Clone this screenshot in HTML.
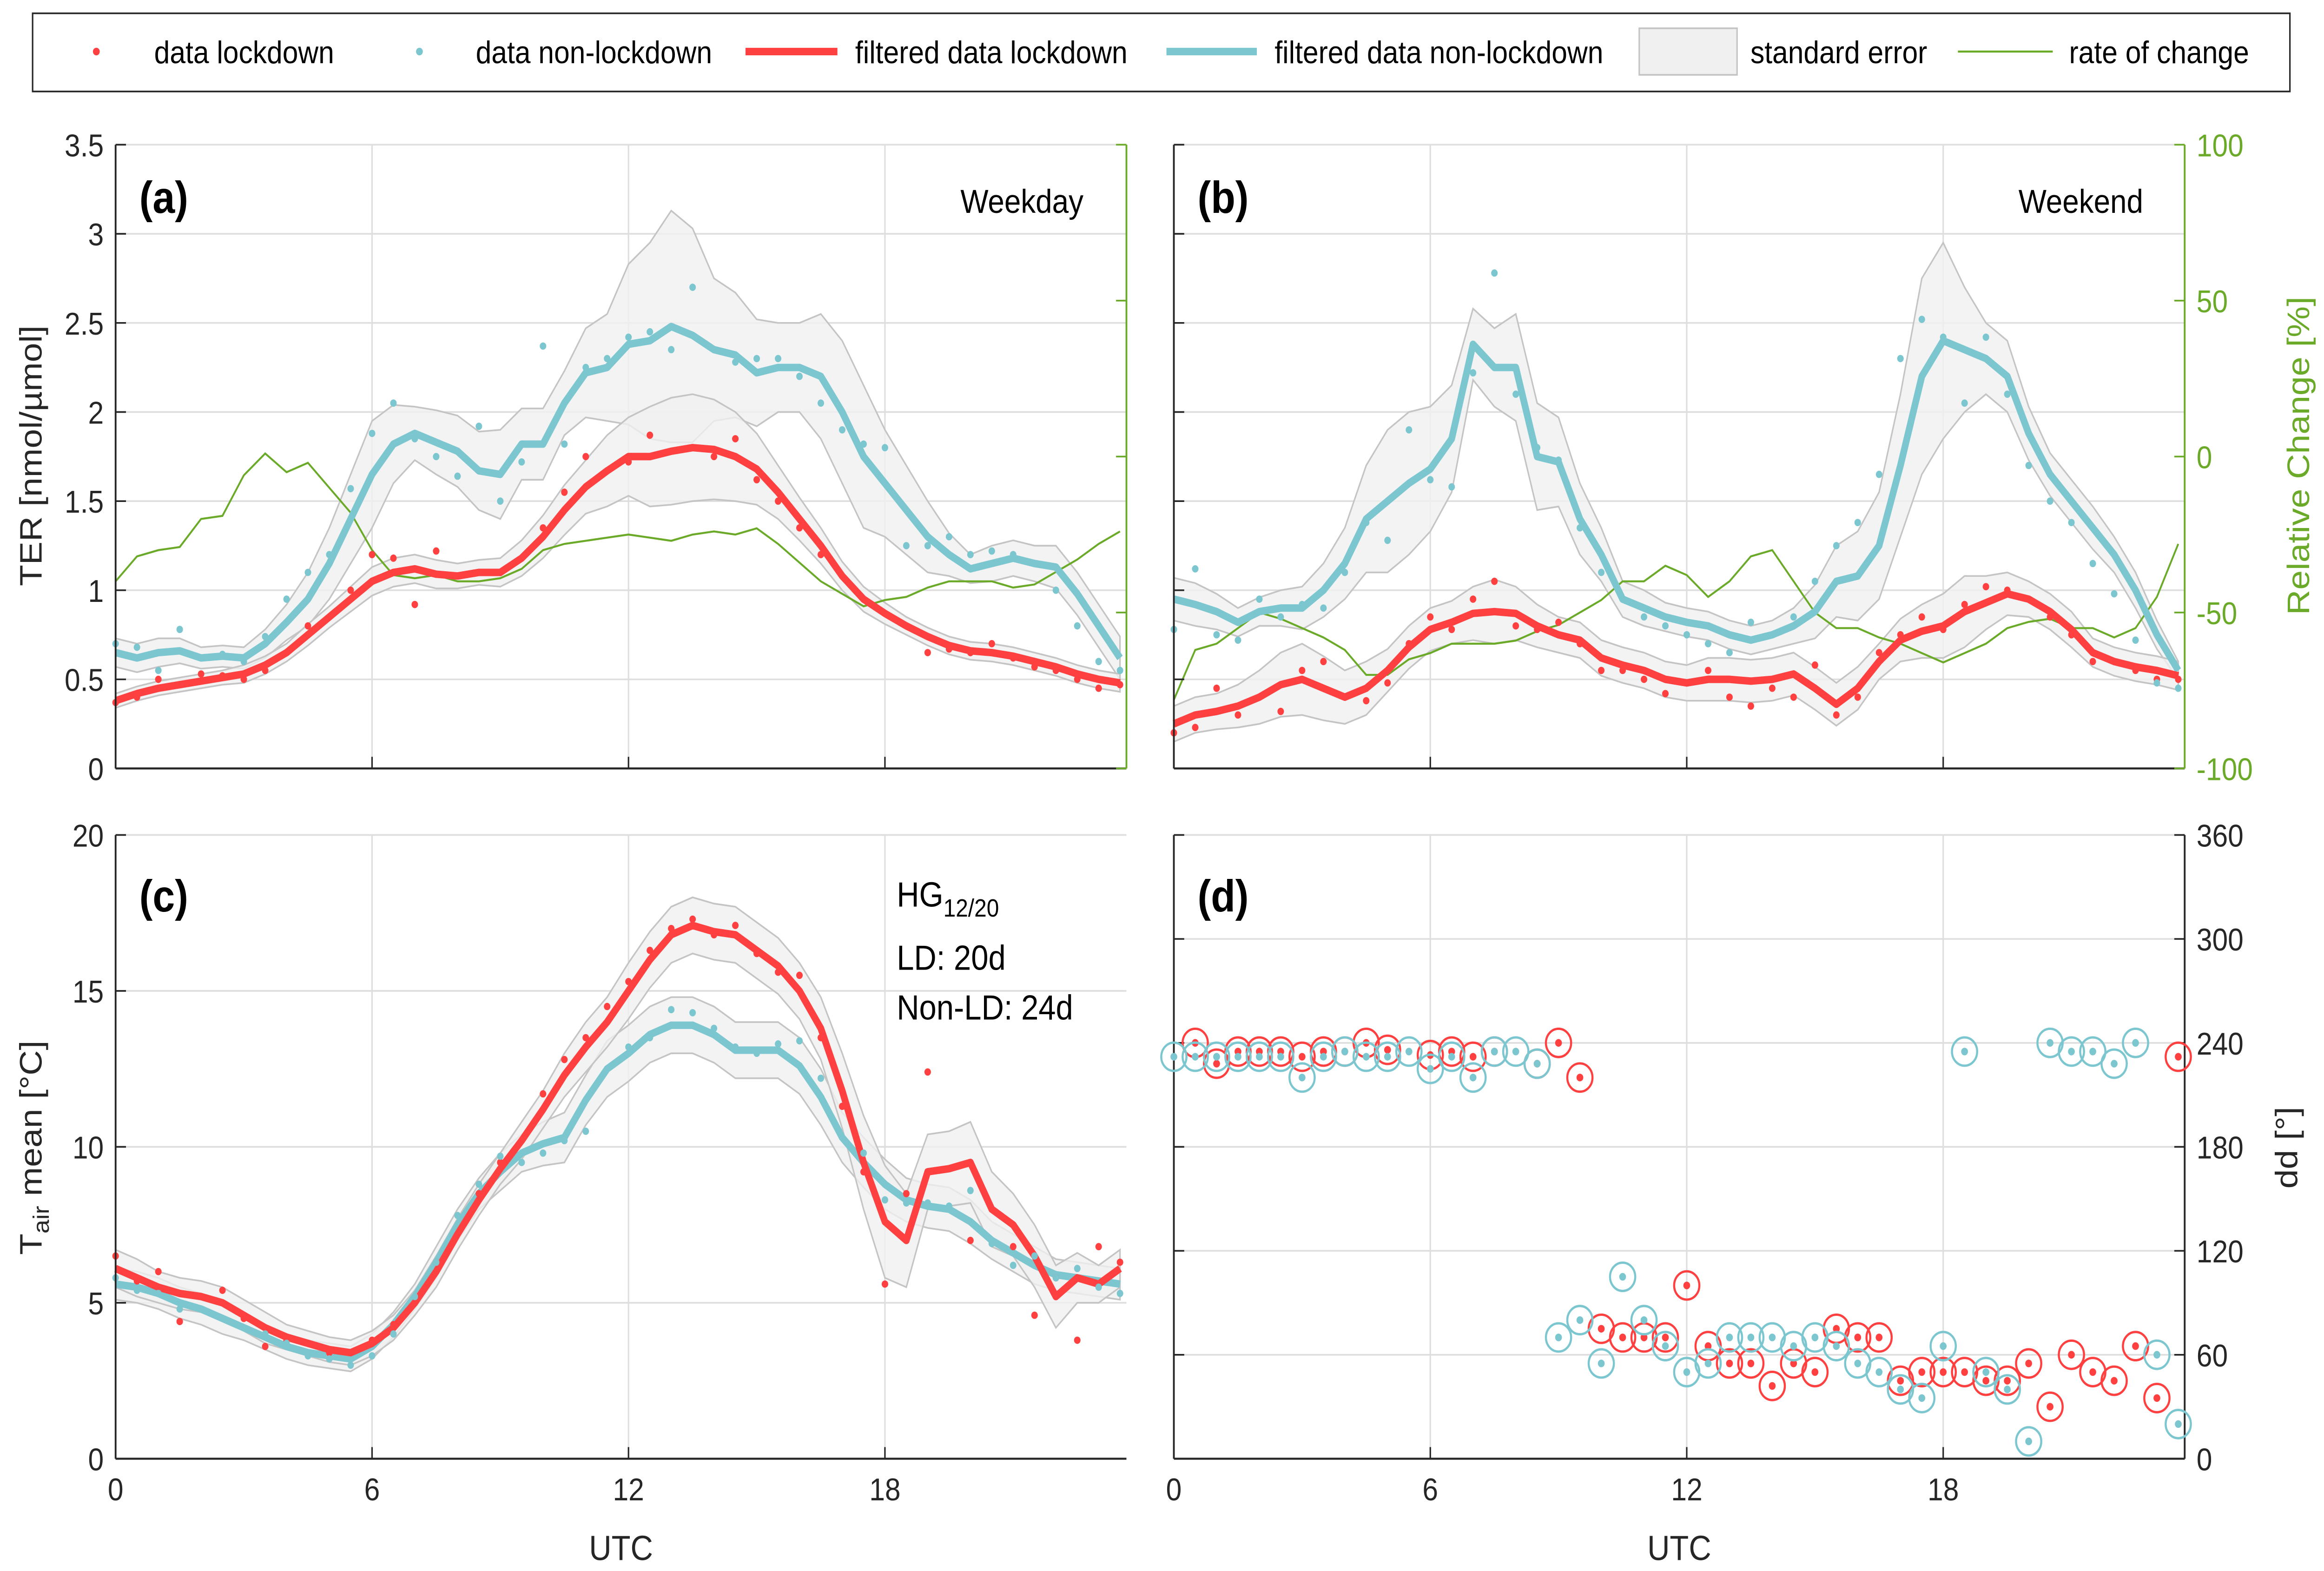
<!DOCTYPE html>
<html><head><meta charset="utf-8"><style>
html,body{margin:0;padding:0;background:#fff;width:100vw;height:100vh;overflow:hidden}
svg{display:block;position:fixed;left:0;top:0;width:100vw;height:100vh}
text{font-family:"Liberation Sans",Arial,sans-serif}
</style></head><body>
<svg id="chart" viewBox="0 0 1568 944.5" preserveAspectRatio="none" xmlns="http://www.w3.org/2000/svg"></svg>
<script>
const hours=[0,0.5,1,1.5,2,2.5,3,3.5,4,4.5,5,5.5,6,6.5,7,7.5,8,8.5,9,9.5,10,10.5,11,11.5,12,12.5,13,13.5,14,14.5,15,15.5,16,16.5,17,17.5,18,18.5,19,19.5,20,20.5,21,21.5,22,22.5,23,23.5];
const xTicks=[0,6,12,18];
const terTicks=[0,0.5,1,1.5,2,2.5,3,3.5];
const relTicks=[-100,-50,0,50,100];
const tTicks=[0,5,10,15,20];
const ddTicks=[0,60,120,180,240,300,360];
// Panel a (weekday)
const aLdFilt=[0.38,0.42,0.45,0.47,0.49,0.51,0.53,0.58,0.65,0.75,0.85,0.95,1.05,1.1,1.12,1.09,1.08,1.1,1.1,1.18,1.3,1.45,1.58,1.67,1.75,1.75,1.78,1.8,1.79,1.75,1.68,1.55,1.4,1.25,1.08,0.95,0.87,0.8,0.74,0.69,0.66,0.65,0.63,0.6,0.57,0.53,0.5,0.48];
const aLdErr=[0.04,0.04,0.04,0.04,0.04,0.04,0.05,0.05,0.05,0.06,0.06,0.07,0.08,0.08,0.08,0.08,0.07,0.07,0.08,0.1,0.12,0.14,0.15,0.2,0.22,0.28,0.3,0.3,0.28,0.25,0.2,0.15,0.12,0.1,0.08,0.07,0.06,0.05,0.05,0.05,0.05,0.05,0.05,0.05,0.05,0.05,0.05,0.05];
const aNlFilt=[0.65,0.62,0.65,0.66,0.62,0.63,0.62,0.7,0.82,0.95,1.15,1.4,1.65,1.82,1.88,1.83,1.78,1.67,1.65,1.82,1.82,2.05,2.22,2.25,2.38,2.4,2.48,2.43,2.35,2.32,2.22,2.25,2.25,2.2,2.0,1.75,1.6,1.45,1.3,1.2,1.12,1.15,1.18,1.15,1.13,0.98,0.8,0.62];
const aNlErr=[0.08,0.08,0.08,0.07,0.06,0.06,0.06,0.08,0.1,0.15,0.2,0.25,0.3,0.22,0.15,0.18,0.2,0.22,0.25,0.2,0.2,0.18,0.25,0.3,0.45,0.55,0.65,0.6,0.4,0.35,0.3,0.25,0.25,0.35,0.4,0.4,0.3,0.25,0.2,0.12,0.08,0.1,0.1,0.1,0.12,0.12,0.12,0.12];
const aLdRaw=[0.37,0.4,0.5,0.47,0.53,0.52,0.5,0.55,0.65,0.8,0.85,1.0,1.2,1.18,0.92,1.22,1.08,1.1,1.1,1.18,1.35,1.55,1.75,1.67,1.72,1.87,1.78,1.8,1.75,1.85,1.62,1.5,1.35,1.2,1.08,0.95,0.87,0.8,0.65,0.67,0.65,0.7,0.62,0.57,0.55,0.5,0.45,0.47];
const aNlRaw=[0.7,0.68,0.55,0.78,0.62,0.64,0.6,0.74,0.95,1.1,1.2,1.57,1.88,2.05,1.85,1.75,1.64,1.92,1.5,1.72,2.37,1.82,2.25,2.3,2.42,2.45,2.35,2.7,2.35,2.28,2.3,2.3,2.2,2.05,1.9,1.82,1.8,1.25,1.25,1.3,1.2,1.22,1.2,1.15,1.0,0.8,0.6,0.55];
const aRate=[-40,-32,-30,-29,-20,-19,-6,1,-5,-2,-10,-18,-30,-38,-39,-38,-40,-40,-39,-36,-30,-28,-27,-26,-25,-26,-27,-25,-24,-25,-23,-28,-34,-40,-44,-48,-46,-45,-42,-40,-40,-40,-42,-41,-37,-33,-28,-24];
// Panel b (weekend)
const bLdFilt=[0.25,0.3,0.32,0.35,0.4,0.47,0.5,0.45,0.4,0.45,0.55,0.68,0.78,0.82,0.87,0.88,0.87,0.8,0.75,0.72,0.62,0.58,0.55,0.5,0.48,0.5,0.5,0.49,0.5,0.53,0.45,0.36,0.45,0.6,0.72,0.77,0.8,0.88,0.93,0.98,0.95,0.88,0.78,0.65,0.6,0.57,0.55,0.52];
const bLdErr=[0.1,0.1,0.1,0.12,0.15,0.18,0.2,0.18,0.15,0.15,0.12,0.12,0.12,0.12,0.15,0.18,0.15,0.12,0.1,0.1,0.1,0.1,0.1,0.1,0.1,0.12,0.12,0.12,0.12,0.12,0.12,0.12,0.12,0.1,0.12,0.15,0.18,0.2,0.15,0.12,0.1,0.1,0.1,0.08,0.08,0.08,0.08,0.08];
const bNlFilt=[0.95,0.92,0.88,0.82,0.88,0.9,0.9,1.0,1.15,1.4,1.5,1.6,1.68,1.85,2.38,2.25,2.25,1.75,1.72,1.4,1.2,0.95,0.9,0.85,0.82,0.8,0.75,0.72,0.75,0.8,0.88,1.05,1.08,1.25,1.7,2.2,2.4,2.35,2.3,2.2,1.88,1.65,1.5,1.35,1.2,1.0,0.75,0.55];
const bNlErr=[0.12,0.12,0.1,0.08,0.08,0.1,0.12,0.15,0.2,0.3,0.4,0.4,0.35,0.3,0.2,0.22,0.3,0.3,0.25,0.2,0.15,0.1,0.1,0.08,0.08,0.08,0.08,0.08,0.08,0.1,0.15,0.2,0.25,0.3,0.4,0.55,0.55,0.35,0.2,0.2,0.15,0.12,0.12,0.12,0.1,0.1,0.08,0.05];
const bLdRaw=[0.2,0.23,0.45,0.3,0.4,0.32,0.55,0.6,0.4,0.38,0.48,0.7,0.85,0.78,0.95,1.05,0.8,0.78,0.82,0.7,0.55,0.55,0.5,0.42,0.48,0.55,0.4,0.35,0.45,0.4,0.58,0.3,0.4,0.65,0.75,0.85,0.78,0.92,1.02,1.0,0.95,0.85,0.75,0.6,0.6,0.55,0.5,0.5];
const bNlRaw=[0.78,1.12,0.75,0.72,0.95,0.85,0.92,0.9,1.1,1.38,1.28,1.9,1.62,1.58,2.22,2.78,2.1,1.8,1.73,1.35,1.1,0.95,0.85,0.8,0.75,0.7,0.65,0.82,0.75,0.85,1.05,1.25,1.38,1.65,2.3,2.52,2.42,2.05,2.42,2.1,1.7,1.5,1.38,1.15,0.98,0.72,0.48,0.45];
const bRate=[-78,-62,-60,-55,-50,-52,-55,-58,-62,-70,-70,-65,-63,-60,-60,-60,-59,-56,-54,-50,-46,-40,-40,-35,-38,-45,-40,-32,-30,-40,-50,-55,-55,-58,-60,-63,-66,-63,-60,-55,-53,-52,-55,-55,-58,-55,-45,-28];
// Panel c (air temperature)
const cLdFilt=[6.1,5.8,5.5,5.3,5.2,5.0,4.6,4.2,3.9,3.7,3.5,3.4,3.7,4.2,5.0,6.0,7.2,8.3,9.3,10.2,11.2,12.3,13.2,14.0,15.0,16.0,16.8,17.1,16.9,16.8,16.3,15.8,15.0,13.8,11.8,9.5,7.6,7.0,9.2,9.3,9.5,8.0,7.5,6.5,5.2,5.8,5.6,6.1];
const cLdErr=[0.6,0.6,0.5,0.5,0.5,0.5,0.5,0.5,0.4,0.4,0.4,0.4,0.4,0.4,0.4,0.5,0.5,0.5,0.5,0.6,0.6,0.7,0.8,0.8,0.9,0.9,0.9,0.9,0.9,0.9,0.9,0.9,0.9,1.0,1.2,1.5,1.8,1.5,1.2,1.2,1.3,1.2,1.0,1.0,1.0,0.8,0.6,0.6];
const cNlFilt=[5.6,5.5,5.3,5.0,4.8,4.5,4.2,3.9,3.6,3.4,3.3,3.2,3.6,4.3,5.2,6.3,7.5,8.5,9.2,9.8,10.1,10.3,11.5,12.5,13.0,13.6,13.9,13.9,13.6,13.1,13.1,13.1,12.6,11.6,10.3,9.5,8.8,8.3,8.1,8.0,7.6,7.0,6.6,6.2,5.9,5.8,5.7,5.6];
const cNlErr=[0.5,0.5,0.5,0.5,0.5,0.5,0.4,0.4,0.4,0.4,0.4,0.4,0.4,0.4,0.4,0.5,0.5,0.5,0.6,0.6,0.7,0.8,0.8,0.9,0.9,0.9,0.9,0.9,0.9,0.9,0.9,0.9,0.9,0.9,0.8,0.8,0.8,0.7,0.7,0.7,0.7,0.6,0.6,0.6,0.5,0.5,0.5,0.5];
const cLdRaw=[6.5,5.7,6.0,4.4,5.2,5.4,4.5,3.6,3.8,3.7,3.4,3.4,3.8,4.3,5.0,6.3,7.2,8.5,9.5,10.2,11.7,12.8,13.5,14.5,15.3,16.3,17.0,17.3,16.8,17.1,16.2,15.6,15.5,13.5,11.3,9.2,5.6,8.5,12.4,9.3,7.0,8.0,6.8,4.6,5.8,3.8,6.8,6.3];
const cNlRaw=[5.8,5.4,5.3,4.8,4.8,4.5,4.2,4.0,3.7,3.3,3.2,3.0,3.3,4.0,5.2,6.3,7.8,8.8,9.7,9.5,9.8,10.2,10.5,12.5,13.2,13.5,14.4,14.3,13.8,13.2,13.0,13.3,13.4,12.2,10.3,9.8,8.3,8.2,8.2,8.1,8.6,6.9,6.2,6.5,5.8,6.1,5.5,5.3];
// Panel d (wind direction)
const dLdHours=[0.5,1,1.5,2,2.5,3,3.5,4,4.5,5,6,6.5,7,7.5,8.5,9,9.5,10,10.5,11,11.5,12,12.5,13,13.5,14,14.5,15,15.5,16,16.5,17,17.5,18,18.5,19,19.5,20,20.5,21,21.5,22,22.5,23,23.5];
const dLdDir=[240,228,235,235,235,232,235,235,240,236,233,235,232,235,228,240,220,75,70,70,70,100,65,55,55,42,55,50,75,70,70,45,50,50,50,45,45,55,30,60,50,45,65,35,232];
const dNlHours=[0,0.5,1,1.5,2,2.5,3,3.5,4,4.5,5,5.5,6,6.5,7,7.5,8,8.5,9,9.5,10,10.5,11,11.5,12,12.5,13,13.5,14,14.5,15,15.5,16,16.5,17,17.5,18,18.5,19,19.5,20,20.5,21,21.5,22,22.5,23,23.5];
const dNlDir=[232,232,232,232,232,232,220,232,235,232,232,235,225,232,220,235,235,228,70,80,55,105,80,65,50,55,70,70,70,65,70,65,55,50,40,35,65,235,50,40,10,240,235,235,228,240,60,20];

const RED="#ff4040",CY="#7cc6d0",GR="#6aaa28",GRID="#dedede";
const svg=document.getElementById('chart');
const NS="http://www.w3.org/2000/svg";
function mk(tag,attrs,parent){const e=document.createElementNS(NS,tag);for(const k in attrs)e.setAttribute(k,attrs[k]);(parent||svg).appendChild(e);return e;}
function txt(s,x,y,attrs,parent){const t=mk('text',Object.assign({x:x,y:y},attrs),parent);t.textContent=s;return t;}

const XMAX=23.65;
function panel(x0,y0,x1,y1){return {x0,y0,x1,y1,sx:h=>x0+(h/XMAX)*(x1-x0)};}
function yscale(p,lo,hi){return v=>p.y1-(v-lo)/(hi-lo)*(p.y1-p.y0);}
function lineD(xs,ys,sx,sy){return xs.map((h,i)=>(i?'L':'M')+sx(h).toFixed(2)+','+sy(ys[i]).toFixed(2)).join('');}

function drawGrid(p,g,yt,sy){
  xTicks.forEach(t=>{mk('line',{x1:p.sx(t),x2:p.sx(t),y1:p.y0,y2:p.y1,stroke:GRID,'stroke-width':1},g);});
  yt.forEach(t=>{mk('line',{x1:p.x0,x2:p.x1,y1:sy(t),y2:sy(t),stroke:GRID,'stroke-width':1},g);});
}
function band(p,g,name,vals,err,sy){
  const up=hours.map((h,i)=>p.sx(h).toFixed(2)+','+sy(vals[i]+err[i]).toFixed(2));
  const lo=hours.map((h,i)=>p.sx(h).toFixed(2)+','+sy(vals[i]-err[i]).toFixed(2)).reverse();
  const b=mk('path',{d:'M'+up.join('L')+'L'+lo.join('L')+'Z',fill:'#f0f0f0','fill-opacity':0.8,stroke:'#c4c4c4','stroke-width':1},g);
  
  
}
function dots(p,g,name,vals,color,sy){
  vals.forEach((v,i)=>{const c=mk('circle',{cx:p.sx(hours[i]),cy:sy(v),r:2.2,fill:color},g);
    
    });
}
function fline(p,g,name,vals,color,sy,w){
  const l=mk('path',{d:lineD(hours,vals,p.sx,sy),fill:'none',stroke:color,'stroke-width':w,'stroke-linejoin':'round'},g);
  
  
}
function axes(p,g,yt,sy,showYLabels,showX,fmt){
  mk('line',{x1:p.x0,x2:p.x0,y1:p.y0,y2:p.y1,stroke:'#262626','stroke-width':1.2},g);
  mk('line',{x1:p.x0,x2:p.x1,y1:p.y1,y2:p.y1,stroke:'#262626','stroke-width':1.2},g);
  xTicks.forEach(t=>{mk('line',{x1:p.sx(t),x2:p.sx(t),y1:p.y1,y2:p.y1-7,stroke:'#262626','stroke-width':1},g);
    if(showX){const l=txt(String(t),p.sx(t),p.y1+25,{'font-size':19,'text-anchor':'middle',fill:'#262626'},g);
      
      }});
  yt.forEach(t=>{mk('line',{x1:p.x0,x2:p.x0+7,y1:sy(t),y2:sy(t),stroke:'#262626','stroke-width':1},g);
    if(showYLabels){const l=txt(fmt(t),p.x0-8,sy(t)+7,{'font-size':19,'text-anchor':'end',fill:'#262626'},g);
      
      }});
}
function rightAxis(p,g,yt,sy,color,labels){
  mk('line',{x1:p.x1,x2:p.x1,y1:p.y0,y2:p.y1,stroke:color,'stroke-width':1.2},g);
  yt.forEach(t=>{mk('line',{x1:p.x1,x2:p.x1-7,y1:sy(t),y2:sy(t),stroke:color,'stroke-width':1},g);
    if(labels){const l=txt(String(t),p.x1+8,sy(t)+7,{'font-size':19,fill:color},g);
      
      }});
}
function label(s,x,y,g){const t=txt(s,x,y,{'font-size':27,'font-weight':'bold',fill:'#000'},g);}

const fmtTer=t=>String(t);
// Panel a
(function(){
  const p=panel(78,87,760,462);const g=mk('g',{});
  const sy=yscale(p,0,3.5),sr=yscale(p,-100,100);
  drawGrid(p,g,terTicks,sy);
  band(p,g,'stderr-band-nonlockdown',aNlFilt,aNlErr,sy);
  band(p,g,'stderr-band-lockdown',aLdFilt,aLdErr,sy);
  const r=mk('path',{d:lineD(hours,aRate,p.sx,sr),fill:'none',stroke:GR,'stroke-width':1.2},g);
  fline(p,g,'filtered-nonlockdown-line',aNlFilt,CY,sy,4.5);
  fline(p,g,'filtered-lockdown-line',aLdFilt,RED,sy,4.5);
  dots(p,g,'data-point-lockdown',aLdRaw,RED,sy);
  dots(p,g,'data-point-nonlockdown',aNlRaw,CY,sy);
  axes(p,g,terTicks,sy,true,false,fmtTer);
  rightAxis(p,g,relTicks,sr,GR,false);
  label('(a)',94,128,g);
  txt('Weekday',731,128,{'font-size':20,'text-anchor':'end',fill:'#000',},g);
  const yl=txt('TER [nmol/µmol]',0,0,{'font-size':21,'text-anchor':'middle',fill:'#262626',transform:'translate(28,274) rotate(-90)'},g);
  
})();
// Panel b
(function(){
  const p=panel(792,87,1474,462);const g=mk('g',{});
  const sy=yscale(p,0,3.5),sr=yscale(p,-100,100);
  drawGrid(p,g,terTicks,sy);
  band(p,g,'stderr-band-nonlockdown',bNlFilt,bNlErr,sy);
  band(p,g,'stderr-band-lockdown',bLdFilt,bLdErr,sy);
  const r=mk('path',{d:lineD(hours,bRate,p.sx,sr),fill:'none',stroke:GR,'stroke-width':1.2},g);
  fline(p,g,'filtered-nonlockdown-line',bNlFilt,CY,sy,4.5);
  fline(p,g,'filtered-lockdown-line',bLdFilt,RED,sy,4.5);
  dots(p,g,'data-point-lockdown',bLdRaw,RED,sy);
  dots(p,g,'data-point-nonlockdown',bNlRaw,CY,sy);
  axes(p,g,terTicks,sy,false,false,fmtTer);
  rightAxis(p,g,relTicks,sr,GR,true);
  label('(b)',808,128,g);
  txt('Weekend',1446,128,{'font-size':20,'text-anchor':'end',fill:'#000',},g);
  const yl=txt('Relative Change [%]',0,0,{'font-size':21,'text-anchor':'middle',fill:GR,transform:'translate(1558,274) rotate(-90)'},g);
  
})();
// Panel c
(function(){
  const p=panel(78,502,760,877);const g=mk('g',{});
  const sy=yscale(p,0,20);
  drawGrid(p,g,tTicks,sy);
  band(p,g,'stderr-band-nonlockdown',cNlFilt,cNlErr,sy);
  band(p,g,'stderr-band-lockdown',cLdFilt,cLdErr,sy);
  fline(p,g,'filtered-nonlockdown-line',cNlFilt,CY,sy,4.5);
  fline(p,g,'filtered-lockdown-line',cLdFilt,RED,sy,4.5);
  dots(p,g,'data-point-lockdown',cLdRaw,RED,sy);
  dots(p,g,'data-point-nonlockdown',cNlRaw,CY,sy);
  axes(p,g,tTicks,sy,true,true,String);
  label('(c)',94,548,g);
  const t1=txt('HG',605,545,{'font-size':21,fill:'#000',},g);
  const ts=mk('tspan',{'font-size':15,dy:6},t1);ts.textContent='12/20';
  txt('LD: 20d',605,583,{'font-size':21,fill:'#000',},g);
  txt('Non-LD: 24d',605,613,{'font-size':21,fill:'#000',},g);
  txt('UTC',419,938,{'font-size':21,'text-anchor':'middle',fill:'#262626',},g);
  const yl=mk('text',{'font-size':21,'text-anchor':'middle',fill:'#262626',transform:'translate(28,690) rotate(-90)',},g);
  yl.appendChild(document.createTextNode('T'));
  const s=mk('tspan',{'font-size':15,dy:5},yl);s.textContent='air';
  const s2=mk('tspan',{dy:-5},yl);s2.textContent=' mean [°C]';
})();
// Panel d
(function(){
  const p=panel(792,502,1474,877);const g=mk('g',{});
  const sy=yscale(p,0,360);
  drawGrid(p,g,ddTicks,sy);
  mk('line',{x1:p.x0,x2:p.x0,y1:p.y0,y2:p.y1,stroke:'#262626','stroke-width':1.2},g);
  mk('line',{x1:p.x0,x2:p.x1,y1:p.y1,y2:p.y1,stroke:'#262626','stroke-width':1.2},g);
  mk('line',{x1:p.x1,x2:p.x1,y1:p.y0,y2:p.y1,stroke:'#262626','stroke-width':1.2},g);
  xTicks.forEach(t=>{mk('line',{x1:p.sx(t),x2:p.sx(t),y1:p.y1,y2:p.y1-7,stroke:'#262626'},g);
    const l=txt(String(t),p.sx(t),p.y1+25,{'font-size':19,'text-anchor':'middle',fill:'#262626'},g);
    });
  ddTicks.forEach(t=>{mk('line',{x1:p.x1,x2:p.x1-7,y1:sy(t),y2:sy(t),stroke:'#262626'},g);
    mk('line',{x1:p.x0,x2:p.x0+7,y1:sy(t),y2:sy(t),stroke:'#262626'},g);
    const l=txt(String(t),p.x1+8,sy(t)+7,{'font-size':19,fill:'#262626'},g);
    });
  function pts(hs,ds,color,name){hs.forEach((h,i)=>{
    const c=mk('circle',{cx:p.sx(h),cy:sy(ds[i]),r:8.5,fill:'none',stroke:color,'stroke-width':1.4},g);
    
    
    mk('circle',{cx:p.sx(h),cy:sy(ds[i]),r:2.3,fill:color},g);});}
  pts(dLdHours,dLdDir,RED,'wind-dir-lockdown');
  pts(dNlHours,dNlDir,CY,'wind-dir-nonlockdown');
  label('(d)',808,548,g);
  txt('UTC',1133,938,{'font-size':21,'text-anchor':'middle',fill:'#262626',},g);
  txt('dd [°]',0,0,{'font-size':21,'text-anchor':'middle',fill:'#262626',transform:'translate(1550,690) rotate(-90)',},g);
})();
// Legend
(function(){
  const g=mk('g',{});
  mk('rect',{x:22,y:8,width:1523,height:47,fill:'#fff',stroke:'#262626','stroke-width':1},g);
  function entry(name,x,label){const t=txt(label,x,38,{'font-size':19,fill:'#000'},g);}
  mk('circle',{cx:65,cy:31,r:2.3,fill:RED},g);entry('legend-data-lockdown',104,'data lockdown');
  mk('circle',{cx:283,cy:31,r:2.3,fill:CY},g);entry('legend-data-nonlockdown',321,'data non-lockdown');
  mk('line',{x1:503,x2:565,y1:31,y2:31,stroke:RED,'stroke-width':4.5},g);entry('legend-filtered-lockdown',577,'filtered data lockdown');
  mk('line',{x1:787,x2:848,y1:31,y2:31,stroke:CY,'stroke-width':4.5},g);entry('legend-filtered-nonlockdown',860,'filtered data non-lockdown');
  mk('rect',{x:1106,y:17,width:66,height:28,fill:'#f0f0f0',stroke:'#c4c4c4'},g);entry('legend-standard-error',1181,'standard error');
  mk('line',{x1:1321,x2:1385,y1:31,y2:31,stroke:GR,'stroke-width':1.2},g);entry('legend-rate-of-change',1396,'rate of change');
})();
</script>
</body></html>
